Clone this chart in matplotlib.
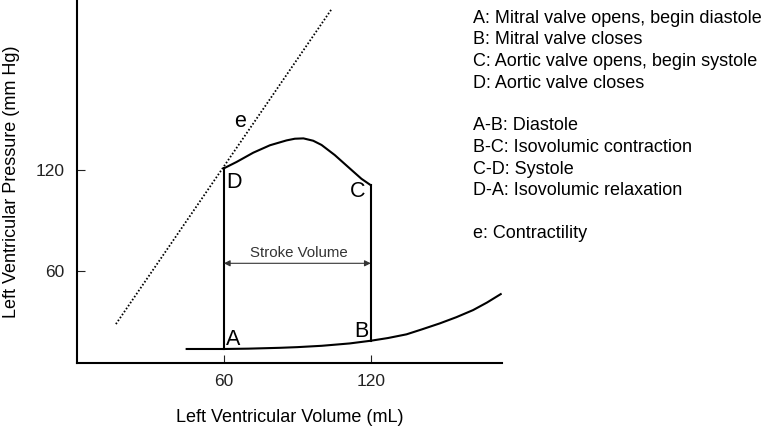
import matplotlib
matplotlib.use('Agg')
import matplotlib.pyplot as plt

plt.rcParams['font.family'] = ['Liberation Sans', 'DejaVu Sans']

# ejection curve D -> C (volume mL, pressure mmHg)
eject_vol = [60, 65.2, 72.0, 78.8, 85.6, 89.0, 92.5, 96.5, 99.9, 105.3, 110.7, 116.2, 120]
eject_p = [121.0, 124.8, 130.3, 134.7, 137.6, 138.6, 138.8, 137.4, 134.9, 128.9, 121.9, 114.8, 111.0]

# end-diastolic filling curve
fill_vol = [44.8, 60, 70, 82.9, 90, 100, 111.4, 120, 127, 134.6, 141, 148.2, 155, 161.8, 167.5, 173.1]
fill_p = [13.7, 13.7, 13.9, 14.4, 14.8, 15.6, 17.0, 18.6, 20.2, 22.4, 25.4, 28.9, 32.6, 36.8, 41.3, 46.3]

# contractility line e
esp_vol = [15.9, 104.2]
esp_p = [28.5, 216]

# corner points
pt_A = (60, 13.7)
pt_B = (120, 18.6)
pt_C = (120, 111.0)
pt_D = (60, 121.0)

legend_lines = [
    'A: Mitral valve opens, begin diastole',
    'B: Mitral valve closes',
    'C: Aortic valve opens, begin systole',
    'D: Aortic valve closes',
    '',
    'A-B: Diastole',
    'B-C: Isovolumic contraction',
    'C-D: Systole',
    'D-A: Isovolumic relaxation',
    '',
    'e: Contractility',
]

W, H = 763, 428
fig = plt.figure(figsize=(W / 100, H / 100), dpi=100)
ax = fig.add_axes([77 / W, (H - 363.3) / H, (501.7 - 77) / W, 363.3 / H])

lw = 1.5
ax.plot(eject_vol, eject_p, color='black', lw=lw, solid_joinstyle='round')
ax.plot(fill_vol, fill_p, color='black', lw=lw, solid_joinstyle='round')
ax.plot([pt_A[0], pt_D[0]], [pt_A[1], pt_D[1]], color='black', lw=lw)
ax.plot([pt_B[0], pt_C[0]], [pt_B[1], pt_C[1]], color='black', lw=lw)
ax.plot(esp_vol, esp_p, color='black', lw=1.3, linestyle=(0, (0.9, 1.1)))

# stroke volume arrow
ax.annotate('', xy=(60, 64.6), xytext=(120, 64.6),
            arrowprops=dict(arrowstyle='<|-|>', color='#333333', lw=0.8,
                            mutation_scale=9, shrinkA=0, shrinkB=0))
ax.text(90.6, 68.3, 'Stroke Volume', ha='center', va='baseline', fontsize=10.8, color='#333333')

lab = dict(fontsize=15.5, color='black', ha='center', va='baseline')
ax.text(63.9, 16.0, 'A', **lab)
ax.text(116.1, 20.8, 'B', **lab)
ax.text(114.5, 104.0, 'C', **lab)
ax.text(64.1, 109.3, 'D', **lab)
ax.text(66.5, 145.3, 'e', **lab)

ax.set_xlim(0, 173.5)
ax.set_ylim(5.2, 221)
ax.set_xticks([60, 120])
ax.set_yticks([60, 120])
ax.tick_params(direction='in', length=5.5, width=0.8, labelsize=12.5, colors='#222222')
ax.tick_params(axis='x', pad=8)
ax.tick_params(axis='y', pad=9)
for s in ['top', 'right']:
    ax.spines[s].set_visible(False)
for s in ['left', 'bottom']:
    ax.spines[s].set_linewidth(1.5)

ax.set_xlabel('Left Ventricular Volume (mL)', fontsize=13, labelpad=14)
ax.set_ylabel('Left Ventricular Pressure (mm Hg)', fontsize=13, labelpad=11)

for i, line in enumerate(legend_lines):
    y_px = 23 + i * 21.5
    fig.text(473 / W, 1 - y_px / H, line, fontsize=13, ha='left', va='baseline')

fig.savefig('out.png', dpi=100)
